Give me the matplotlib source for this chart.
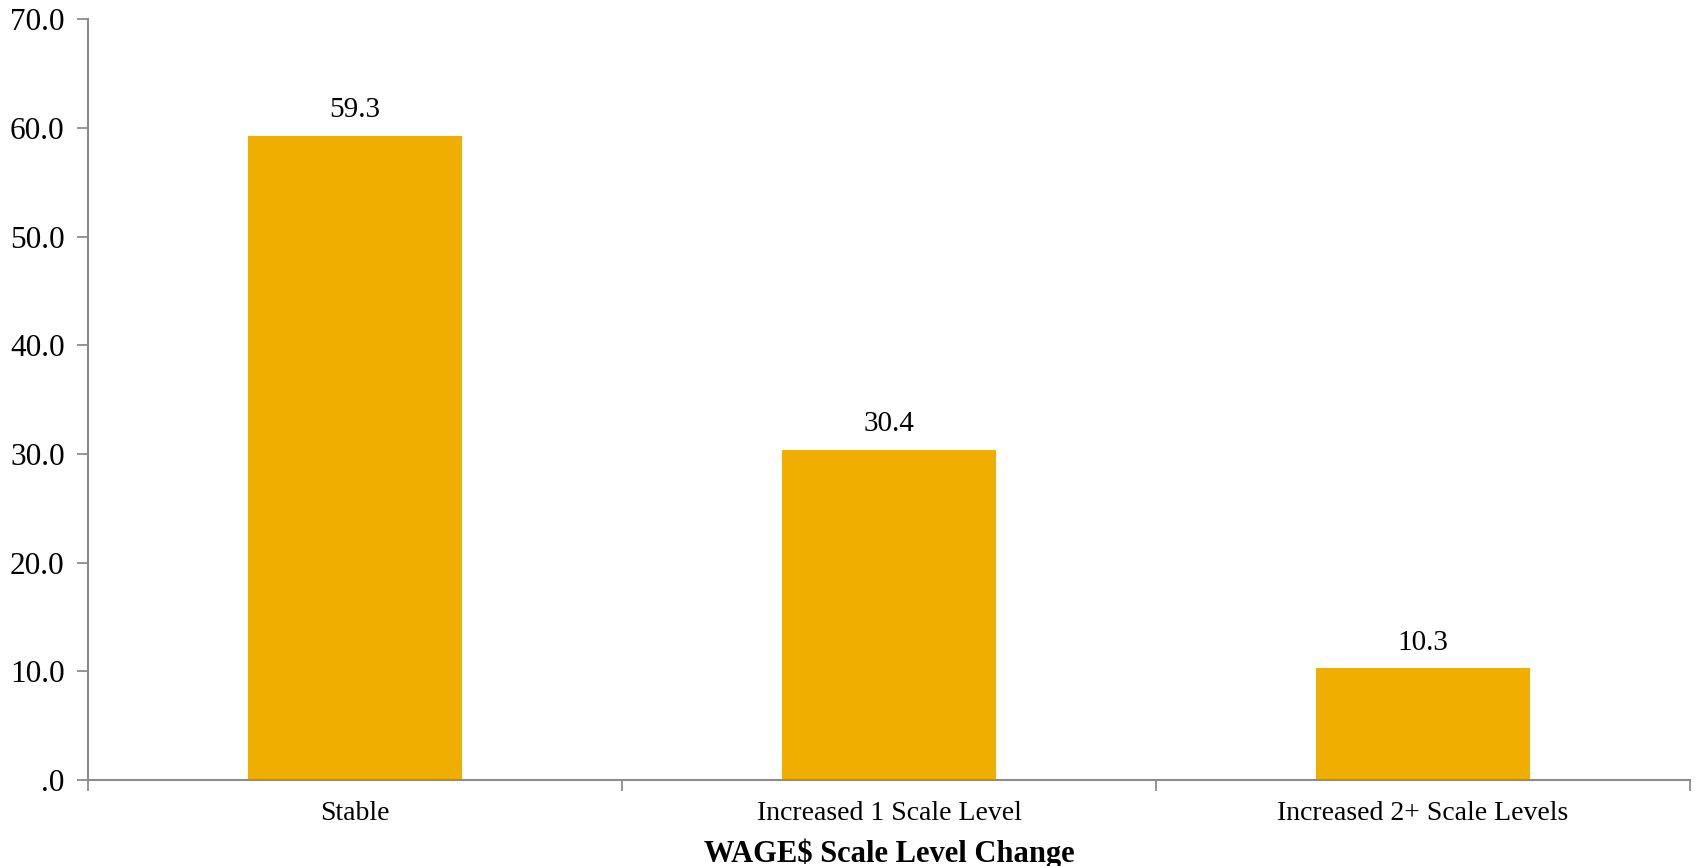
import matplotlib.pyplot as plt
from matplotlib.ticker import FuncFormatter

categories = ["Stable", "Increased 1 Scale Level", "Increased 2+ Scale Levels"]
percentages = [59.3, 30.4, 10.3]
y_ticks = [0, 10, 20, 30, 40, 50, 60, 70]

plt.rcParams['font.family'] = ['Liberation Serif', 'DejaVu Serif']

BAR_COLOR = '#F0AE00'
AXIS_COLOR = '#8C8C8C'

fig = plt.figure(figsize=(16.96, 8.66), dpi=100)
ax = fig.add_axes([0.052, 0.0993, 0.9445, 0.8782])

x = list(range(len(categories)))
ax.bar(x, percentages, width=0.4, color=BAR_COLOR, zorder=2)

for xi, val in zip(x, percentages):
    ax.annotate(f"{val:.1f}", (xi, val), xytext=(0, 9), textcoords='offset points',
                ha='center', va='bottom', fontsize=21, color='black')

ax.set_xlim(-0.5, len(categories) - 0.5)
ax.set_ylim(0, 70)

# category boundary tick marks, labels sit between them
ax.set_xticks([i - 0.5 for i in range(len(categories) + 1)])
ax.set_xticklabels([])
ax.set_xticks(x, minor=True)
ax.set_xticklabels(categories, minor=True, fontsize=20)
ax.tick_params(axis='x', which='major', length=8, width=1.3, color=AXIS_COLOR, direction='out')
ax.tick_params(axis='x', which='minor', length=0, pad=15)

ax.set_yticks(y_ticks)
ax.yaxis.set_major_formatter(FuncFormatter(lambda v, p: f"{v:.1f}".lstrip('0') if v < 1 else f"{v:.1f}"))
ax.tick_params(axis='y', length=8, width=1.3, color=AXIS_COLOR, direction='out', labelsize=22.5, pad=9)

for side in ['top', 'right']:
    ax.spines[side].set_visible(False)
for side in ['left', 'bottom']:
    ax.spines[side].set_color(AXIS_COLOR)
    ax.spines[side].set_linewidth(1.5)

ax.set_xlabel("WAGE$ Scale Level Change", fontsize=22, fontweight='bold', labelpad=9)

fig.savefig('out.png', dpi=100)
